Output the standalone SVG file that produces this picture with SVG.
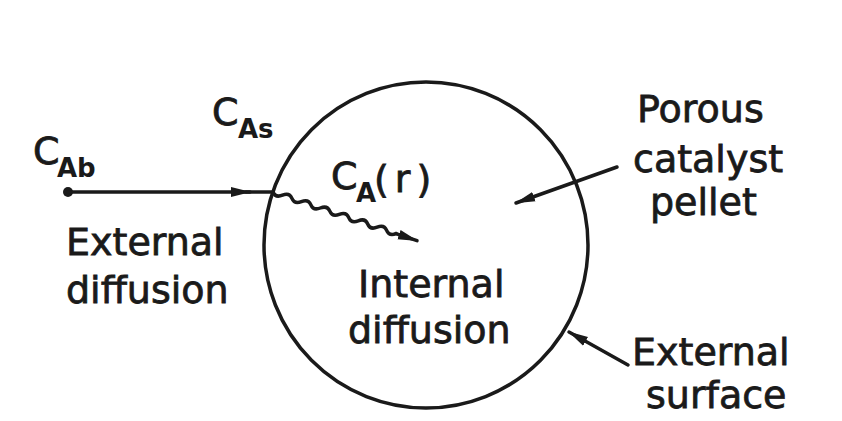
<svg xmlns="http://www.w3.org/2000/svg" width="842" height="421" viewBox="0 0 842 421">
<defs>
<marker id="ah" markerUnits="userSpaceOnUse" markerWidth="20" markerHeight="12" viewBox="0 0 20 12" refX="19" refY="6" orient="auto">
<path d="M0,1 L20,6 L0,11 z" fill="#1a1a1a"/>
</marker>
<style>
.t{font-family:"DejaVu Sans",sans-serif;font-size:38px;fill:#1a1a1a;stroke:#1a1a1a;stroke-width:0.8}
.s{font-family:"DejaVu Sans",sans-serif;font-size:26px;font-weight:bold;fill:#1a1a1a}
.ln{stroke:#1a1a1a;stroke-width:3.5;fill:none;stroke-linecap:round}
</style>
</defs>
<rect width="842" height="421" fill="#ffffff"/>
<g id="pellet">
<ellipse cx="426" cy="245" rx="162" ry="163" class="ln" stroke-width="3.2"/>
</g>
<g id="labels-left">
<text class="t" x="33" y="164">C</text><text class="s" x="57" y="177">Ab</text>
<text class="t" x="212" y="125">C</text><text class="s" x="238" y="138">As</text>
<text class="t" x="66" y="255">External</text>
<text class="t" x="66" y="303">diffusion</text>
</g>
<g id="labels-inner">
<text class="t" x="331" y="189">C</text><text class="s" x="356" y="202">A</text>
<text class="t" x="374" y="192" letter-spacing="6">(r)</text>
<text class="t" x="358" y="297">Internal</text>
<text class="t" x="348" y="343">diffusion</text>
</g>
<g id="labels-right">
<text class="t" x="637" y="122">Porous</text>
<text class="t" x="633" y="172">catalyst</text>
<text class="t" x="650" y="215">pellet</text>
<text class="t" x="632" y="365">External</text>
<text class="t" x="646" y="408">surface</text>
</g>
<g id="connectors">
<circle cx="68" cy="192" r="5" fill="#1a1a1a"/>
<line x1="68" y1="192" x2="250" y2="192" class="ln" marker-end="url(#ah)"/>
<line x1="246" y1="192" x2="273" y2="192" class="ln"/>
<path d="M273,192 q2.5,6 9.47,3.2 t9.47,3.2 t9.47,3.2 t9.47,3.2 t9.47,3.2 t9.47,3.2 t9.47,3.2 t9.47,3.2 t9.47,3.2 t9.47,3.2 t9.47,3.2 t9.47,3.2 t9.47,3.2" class="ln" stroke-width="3"/>
<line x1="396" y1="233.6" x2="417" y2="240.7" class="ln" marker-end="url(#ah)"/>
<line x1="617" y1="167" x2="516" y2="203" class="ln" stroke-width="3" marker-end="url(#ah)"/>
<line x1="628" y1="365" x2="569" y2="332" class="ln" stroke-width="3" marker-end="url(#ah)"/>
</g>
</svg>
